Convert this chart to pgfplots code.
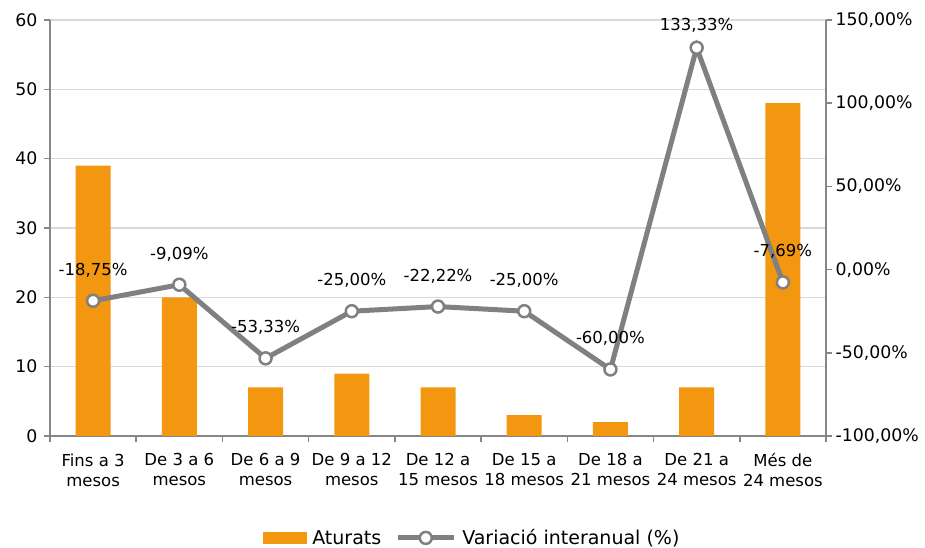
\documentclass[border=0pt]{standalone}
\usepackage{fontspec}
\setmainfont{DejaVu Sans}
\usepackage{pgfplots}
\pgfplotsset{compat=1.18}
\definecolor{barorange}{RGB}{243,150,16}
\definecolor{linegray}{RGB}{128,128,128}
\definecolor{gridgray}{RGB}{217,217,217}
\definecolor{axisgray}{RGB}{134,134,134}

\pgfplotsset{
  mylinelegend/.style={legend image code/.code={\draw[mark repeat=2,mark phase=2,##1] plot coordinates {(0pt,0pt) (28pt,0pt) (56pt,0pt)};}},
  mybarlegend/.style={legend image code/.code={\fill[barorange] (0pt,-5.5pt) rectangle (43pt,5.5pt);}},
}

\pgfplotstableread{
x y
0 39
1 20
2 7
3 9
4 7
5 3
6 2
7 7
8 48
}\aturats

\pgfplotstableread{
x y dy label
0 -18.75 19 {-18,75\%}
1 -9.09 19 {-9,09\%}
2 -53.33 19 {-53,33\%}
3 -25.00 19 {-25,00\%}
4 -22.22 19 {-22,22\%}
5 -25.00 19 {-25,00\%}
6 -60.00 19 {-60,00\%}
7 133.33 11 {133,33\%}
8 -7.69 19 {-7,69\%}
}\variacio

\begin{document}
\begin{tikzpicture}[x=1pt,y=1pt]
\useasboundingbox (0,0) rectangle (925,548);
\pgfplotsset{
  base/.style={
    scale only axis, width=776pt, height=416pt,
    at={(50pt,112pt)}, anchor=south west,
    xmin=-0.5, xmax=8.5,
    font=\fontsize{17.3}{20}\selectfont,
    /pgf/number format/assume math mode=true,
    axis line style={axisgray, line width=1.5pt, -},
    tick style={axisgray, line width=1.5pt},
    major tick length=6pt,
    tick align=outside,
    ticklabel style={text=black},
  }
}
\begin{axis}[base,
  ymin=0, ymax=60, ytick={0,10,...,60},
  axis x line*=bottom, axis y line*=left,
  ymajorgrids, grid style={gridgray, line width=1.2pt},
  xtick={-0.5,0.5,...,8.5},
  x tick label as interval,
  xticklabels={{Fins a 3\\mesos},{De 3 a 6\\mesos},{De 6 a 9\\mesos},{De 9 a 12\\mesos},{De 12 a\\15 mesos},{De 15 a\\18 mesos},{De 18 a\\21 mesos},{De 21 a\\24 mesos},{Més de\\24 mesos}},
  xticklabel style={align=center, yshift=-8pt, font=\fontsize{16.5}{20}\selectfont},
  yticklabel style={xshift=-3pt},
]
\addplot[ybar, bar width=35pt, fill=barorange, draw=none] table[x=x,y=y] {\aturats};
\end{axis}
\begin{axis}[base,
  ymin=-100, ymax=150, ytick={-100,-50,...,150},
  axis y line*=right, axis x line=none,
  yticklabel={\pgfmathprintnumber[fixed,fixed zerofill,precision=2,use comma]{\tick}\%},
  legend style={at={(0.544,-0.245)}, anchor=center, draw=none, fill=none,
    legend columns=2, font=\fontsize{19}{23}\selectfont,
    /tikz/every odd column/.append style={column sep=4pt},
    /tikz/every even column/.append style={column sep=12pt}},
]
\addlegendimage{mybarlegend}
\addlegendentry{Aturats}
\addplot[linegray, line width=5pt, mark=*, mark size=6pt,
  mark options={fill=white, draw=linegray, line width=2.5pt},
  nodes near coords, point meta=explicit symbolic,
  visualization depends on={\thisrow{dy} \as \labeldy},
  every node near coord/.style={anchor=south, yshift=\labeldy pt, text=black, font=\fontsize{16.5}{20}\selectfont},
  mylinelegend
] table[x=x,y=y,meta=label] {\variacio};
\addlegendentry{Variació interanual (\%)}
\end{axis}
\end{tikzpicture}
\end{document}
